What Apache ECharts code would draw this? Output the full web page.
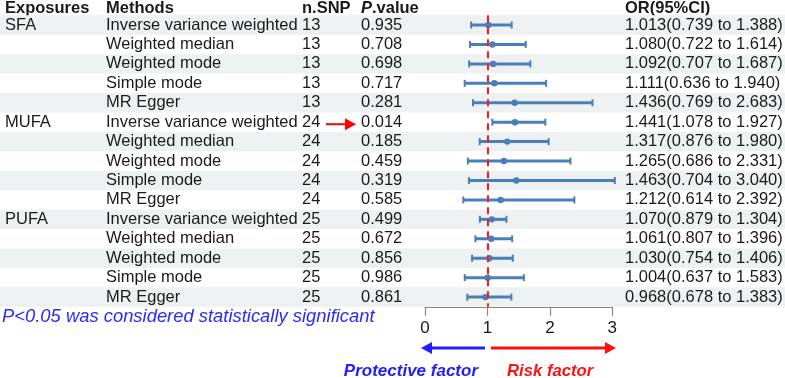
<!DOCTYPE html>
<html>
<head>
<meta charset="utf-8">
<script src="https://cdn.jsdelivr.net/npm/echarts@6/dist/echarts.min.js"></script>
<style>
  html, body { margin: 0; padding: 0; background: #fff; }
  #main { width: 785px; height: 378px; }
</style>
</head>
<body>
<div id="main"></div>
<script>
// rows, top to bottom
const exposures = ["SFA", "", "", "", "", "MUFA", "", "", "", "", "PUFA", "", "", "", ""];
const methods = [
    "Inverse variance weighted", "Weighted median", "Weighted mode", "Simple mode", "MR Egger",
    "Inverse variance weighted", "Weighted median", "Weighted mode", "Simple mode", "MR Egger",
    "Inverse variance weighted", "Weighted median", "Weighted mode", "Simple mode", "MR Egger"
];
const nSnp = [13, 13, 13, 13, 13, 24, 24, 24, 24, 24, 25, 25, 25, 25, 25];
const pValues = ["0.935", "0.708", "0.698", "0.717", "0.281", "0.014", "0.185", "0.459", "0.319", "0.585",
    "0.499", "0.672", "0.856", "0.986", "0.861"];
const orValues = [1.013, 1.080, 1.092, 1.111, 1.436, 1.441, 1.317, 1.265, 1.463, 1.212, 1.070, 1.061, 1.030, 1.004, 0.968];
const ciLower = [0.739, 0.722, 0.707, 0.636, 0.769, 1.078, 0.876, 0.686, 0.704, 0.614, 0.879, 0.807, 0.754, 0.637, 0.678];
const ciUpper = [1.388, 1.614, 1.687, 1.940, 2.683, 1.927, 1.980, 2.331, 3.040, 2.392, 1.304, 1.396, 1.406, 1.583, 1.383];
const xTicks = [0, 1, 2, 3];

const FONT = '"Liberation Sans", Arial, sans-serif';
const TXT = "#1a1a1a";
const BAR = "#4a7ebb";

const rows = methods.map((m, i) => String(i));
const gridTop = 15.3;
const gridHeight = 291.5;

let chart = echarts.init(document.getElementById("main"));

// 表格文字
const renderTable = (params, api) => {
    let i = api.value(0);
    let y = api.coord([0, i])[1];
    const t = (text, x) => ({
        type: "text",
        style: { text: text, x: x, y: y, fill: TXT, fontSize: 16.5, fontFamily: FONT, align: "left", verticalAlign: "middle" }
    });
    let orText = orValues[i].toFixed(3) + "(" + ciLower[i].toFixed(3) + " to " + ciUpper[i].toFixed(3) + ")";
    return {
        type: "group",
        children: [
            t(exposures[i], 5),
            t(methods[i], 106),
            t(String(nSnp[i]), 302),
            t(pValues[i], 361),
            t(orText, 625)
        ]
    };
};

// 误差线
const renderForest = (params, api) => {
    let i = api.value(0);
    let lo = api.coord([ciLower[i], i]);
    let hi = api.coord([ciUpper[i], i]);
    let mid = api.coord([orValues[i], i]);
    let ls = { stroke: BAR, lineWidth: 3 };
    return {
        type: "group",
        children: [
            { type: "line", shape: { x1: lo[0], y1: lo[1], x2: hi[0], y2: hi[1] }, style: ls },
            { type: "line", shape: { x1: lo[0], y1: lo[1] - 3.5, x2: lo[0], y2: lo[1] + 3.5 }, style: { stroke: BAR, lineWidth: 2 } },
            { type: "line", shape: { x1: hi[0], y1: hi[1] - 3.5, x2: hi[0], y2: hi[1] + 3.5 }, style: { stroke: BAR, lineWidth: 2 } },
            { type: "circle", shape: { cx: mid[0], cy: mid[1], r: 3.2 }, style: { fill: BAR } }
        ]
    };
};

const arrowHead = (x, y, dir, color) => ({
    type: "polygon",
    shape: { points: [[x, y], [x - dir * 11, y - 6], [x - dir * 11, y + 6]] },
    style: { fill: color }
});

let option = {
    animation: false,
    grid: [
        { left: 0, right: 0, top: gridTop, height: gridHeight },
        { left: 425, width: 187.3, top: gridTop, height: gridHeight }
    ],
    xAxis: [
        { gridIndex: 0, type: "value", min: 0, max: 785, show: false },
        {
            gridIndex: 1, type: "value", min: 0, max: 3, interval: 1,
            axisLine: { show: true, lineStyle: { color: "#888", width: 1.2 } },
            axisTick: { show: true, length: 9, lineStyle: { color: "#888", width: 1.2 } },
            splitLine: { show: false },
            axisLabel: {
                color: TXT, fontSize: 17, fontFamily: FONT, margin: 13,
                formatter: v => (xTicks.indexOf(v) >= 0 ? String(v) : "")
            }
        }
    ],
    yAxis: [
        {
            gridIndex: 0, type: "category", data: rows, inverse: true,
            axisLine: { show: false }, axisTick: { show: false }, axisLabel: { show: false },
            splitLine: { show: false },
            splitArea: { show: true, areaStyle: { color: ["#eef1f1", "rgba(255,255,255,0)"] } }
        },
        { gridIndex: 1, type: "category", data: rows, inverse: true, show: false }
    ],
    series: [
        {
            type: "custom", xAxisIndex: 0, yAxisIndex: 0,
            data: rows.map((r, i) => [i]),
            renderItem: renderTable, clip: false, silent: true
        },
        {
            type: "custom", xAxisIndex: 1, yAxisIndex: 1,
            data: rows.map((r, i) => [i]),
            renderItem: renderForest, clip: false, silent: true, z: 3,
            markLine: {
                silent: true, symbol: "none", label: { show: false },
                lineStyle: { color: "#ff1a1a", type: [7, 5], width: 2 },
                data: [{ xAxis: 1 }]
            }
        }
    ],
    graphic: [
        { type: "text", style: { text: "Exposures", x: 5, y: 8, fill: TXT, font: "bold 16.5px " + FONT, verticalAlign: "middle" } },
        { type: "text", style: { text: "Methods", x: 106, y: 8, fill: TXT, font: "bold 16.5px " + FONT, verticalAlign: "middle" } },
        { type: "text", style: { text: "n.SNP", x: 302, y: 8, fill: TXT, font: "bold 16.5px " + FONT, verticalAlign: "middle" } },
        {
            type: "text",
            style: {
                text: "{i|P}{b|.value}", x: 361, y: 8, verticalAlign: "middle",
                rich: {
                    i: { fill: TXT, fontSize: 16.5, fontWeight: "bold", fontStyle: "italic", fontFamily: FONT },
                    b: { fill: TXT, fontSize: 16.5, fontWeight: "bold", fontFamily: FONT }
                }
            }
        },
        { type: "text", style: { text: "OR(95%CI)", x: 625, y: 8, fill: TXT, font: "bold 16.5px " + FONT, verticalAlign: "middle" } },
        // 显著标记
        { type: "line", shape: { x1: 326, y1: 124.2, x2: 347, y2: 124.2 }, style: { stroke: "#ff0000", lineWidth: 2 } },
        arrowHead(356, 124.2, 1, "#ff0000"),
        {
            type: "text",
            style: { text: "P<0.05 was considered statistically significant", x: 2, y: 317, fill: "#2a2aff", font: "italic 18.4px " + FONT, verticalAlign: "middle" }
        },
        // 方向箭头
        { type: "line", shape: { x1: 485, y1: 348, x2: 430, y2: 348 }, style: { stroke: "#2020ff", lineWidth: 3 } },
        arrowHead(421, 348, -1, "#2020ff"),
        { type: "line", shape: { x1: 491, y1: 348, x2: 607, y2: 348 }, style: { stroke: "#ff1010", lineWidth: 3 } },
        arrowHead(616, 348, 1, "#ff1010"),
        { type: "text", style: { text: "Protective factor", x: 478, y: 371, fill: "#2020ff", font: "italic bold 17px " + FONT, align: "right", verticalAlign: "middle" } },
        { type: "text", style: { text: "Risk factor", x: 507, y: 371, fill: "#ff1010", font: "italic bold 16.7px " + FONT, verticalAlign: "middle" } }
    ]
};

chart.setOption(option);
</script>
</body>
</html>
